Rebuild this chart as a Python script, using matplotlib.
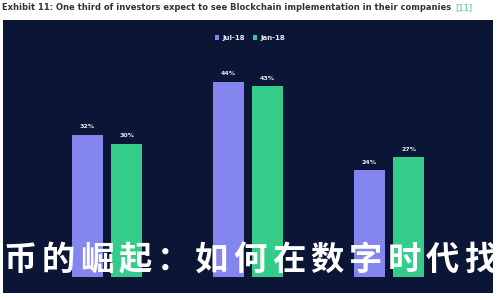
import numpy as np
import matplotlib.pyplot as plt
from matplotlib.patches import Rectangle

groups = ['A', 'B', 'C']
jul_18 = [32, 44, 24]
jan_18 = [30, 43, 27]
series_names = ['Jul-18', 'Jan-18']
title = 'Exhibit 11: One third of investors expect to see Blockchain implementation in their companies'
overlay = '币的崛起：如何在数字时代找'

navy = '#0b1535'
purple = '#8585ef'
green = '#34cc8b'

fig = plt.figure(figsize=(5, 3), dpi=100, facecolor='white')

# dark panel behind the chart
fig.patches.append(Rectangle((0.006, 0.023), 0.980, 0.910, transform=fig.transFigure,
                             facecolor=navy, edgecolor='none', zorder=-5))

ax = fig.add_axes([0.006, 0.077, 0.980, 0.74], zorder=2)
ax.set_facecolor('none')
ind = np.arange(len(groups))
width = 0.22
off = 0.14

b1 = ax.bar(ind - off, jul_18, width, color=purple, label=series_names[0])
b2 = ax.bar(ind + off, jan_18, width, color=green, label=series_names[1])

for bars, vals in ((b1, jul_18), (b2, jan_18)):
    for b, v in zip(bars, vals):
        ax.text(b.get_x() + b.get_width() / 2, v + 1.2, f'{v}%', ha='center', va='bottom',
                color='#e8e8f0', fontsize=4.5, fontweight='bold')

ax.axhline(0, color='#9aa0b0', lw=0.6)
ax.set_xlim(-0.738, 2.738)
ax.set_ylim(0, 50)
ax.axis('off')

leg = fig.legend(handles=[b1, b2], labels=series_names, loc='center', bbox_to_anchor=(0.5, 0.873),
                 ncol=2, frameon=False, fontsize=5, handlelength=0.6, handleheight=0.6,
                 handletextpad=0.4, columnspacing=1.2)
for t in leg.get_texts():
    t.set_color('#e8e8f0')
    t.set_fontweight('bold')

ttl = fig.text(0.004, 0.975, title, ha='left', va='center', fontsize=6.05, fontweight='bold',
               color='#333333')
# put the reference tag just after the title
fig.canvas.draw()
bb = ttl.get_window_extent().transformed(fig.transFigure.inverted())
fig.text(bb.x1 + 0.008, 0.975, '[11]', ha='left', va='center', fontsize=6.05, color='#3cc4a8')

# overlay text across the bottom, one glyph per slot
for i, ch in enumerate(overlay):
    fig.text(0.040 + i * 0.0768, 0.131, ch, ha='center', va='center', fontsize=24,
             fontweight='bold', color='white', family=['Noto Sans CJK SC', 'DejaVu Sans'],
             zorder=10)

fig.savefig('out.png', dpi=100, facecolor='white')
